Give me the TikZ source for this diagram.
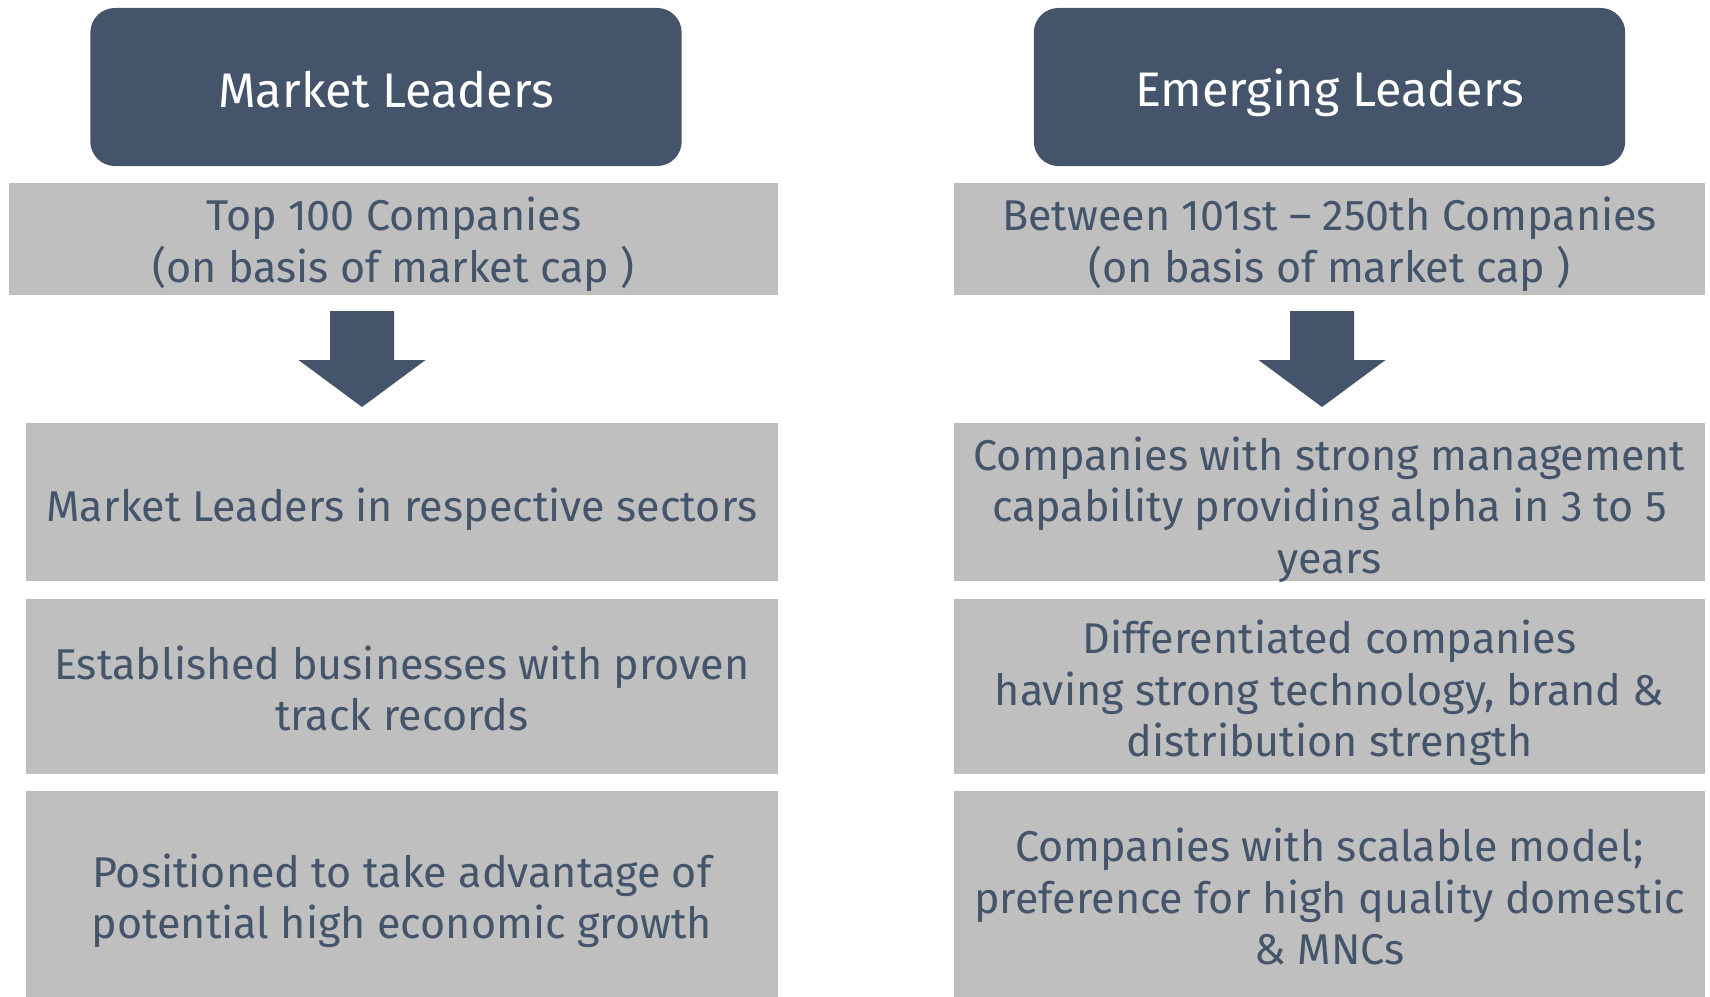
\documentclass[tikz,border=0pt]{standalone}
\usepackage{fontspec}
\setmainfont{Fira Sans}
\definecolor{slate}{HTML}{44546A}
\definecolor{boxgray}{HTML}{BFBFBF}
\begin{document}
\begin{tikzpicture}[x=0.01cm,y=-0.01cm,
  head/.style={fill=slate,rounded corners=7pt,inner sep=0pt},
  headtxt/.style={text=white,inner sep=0pt,font=\fontsize{13.8}{16}\selectfont},
  gbox/.style={fill=boxgray,inner sep=0pt},
  gtxt/.style={text=slate,inner sep=0pt,align=center,font=\fontsize{12.25}{14.6}\selectfont},
  darrow/.style={fill=slate}]
\useasboundingbox (0,0) rectangle (1710,996);
% headers
\node[head,minimum width=5.91cm,minimum height=1.58cm] (h1) at (386,87) {};
\node[headtxt,yshift=-0.03cm] (h1t) at (h1.center) {Market Leaders};
\node[head,minimum width=5.91cm,minimum height=1.58cm] (h2) at (1329.5,87) {};
\node[headtxt,yshift=-0.06cm] (h2t) at (h2.center) {Emerging Leaders};
% top gray
\node[gbox,minimum width=7.68cm,minimum height=1.115cm] (t1) at (393.7,238.8) {};
\node[gtxt,yshift=-0.055cm] (t1t) at (t1.center) {Top 100 Companies\\(on basis of market cap )};
\node[gbox,minimum width=7.51cm,minimum height=1.115cm] (t2) at (1329.5,238.8) {};
\node[gtxt,yshift=-0.055cm] (t2t) at (t2.center) {Between 101st -- 250th Companies\\(on basis of market cap )};
% arrows
\foreach \c in {362,1322}{
  \fill[darrow] (\c-32,311) -- (\c+32,311) -- (\c+32,360) -- (\c+63.5,360) -- (\c,407) -- (\c-63.5,360) -- (\c-32,360) -- cycle;
}
% left column
\node[gbox,minimum width=7.516cm,minimum height=1.58cm] (l1) at (401.8,502) {};
\node[gtxt,yshift=-0.075cm] (l1t) at (l1.center) {Market Leaders in respective sectors};
\node[gbox,minimum width=7.516cm,minimum height=1.75cm] (l2) at (401.8,686.5) {};
\node[gtxt,yshift=-0.02cm] (l2t) at (l2.center) {Established businesses with proven\\track records};
\node[gbox,minimum width=7.516cm,minimum height=2.1cm] (l3) at (401.8,896) {};
\node[gtxt,yshift=-0.05cm] (l3t) at (l3.center) {Positioned to take advantage of\\potential high economic growth};
% right column
\node[gbox,minimum width=7.51cm,minimum height=1.58cm] (r1) at (1329.5,502) {};
\node[gtxt,yshift=-0.075cm] (r1t) at (r1.center) {Companies with strong management\\capability providing alpha in 3 to 5\\years};
\node[gbox,minimum width=7.51cm,minimum height=1.75cm] (r2) at (1329.5,686.5) {};
\node[gtxt,yshift=-0.065cm] (r2t) at (r2.center) {Differentiated companies\\having strong technology, brand \&\\distribution strength};
\node[gbox,minimum width=7.51cm,minimum height=2.1cm] (r3) at (1329.5,896) {};
\node[gtxt,yshift=-0.005cm] (r3t) at (r3.center) {Companies with scalable model;\\preference for high quality domestic\\\& MNCs};
\end{tikzpicture}
\end{document}
